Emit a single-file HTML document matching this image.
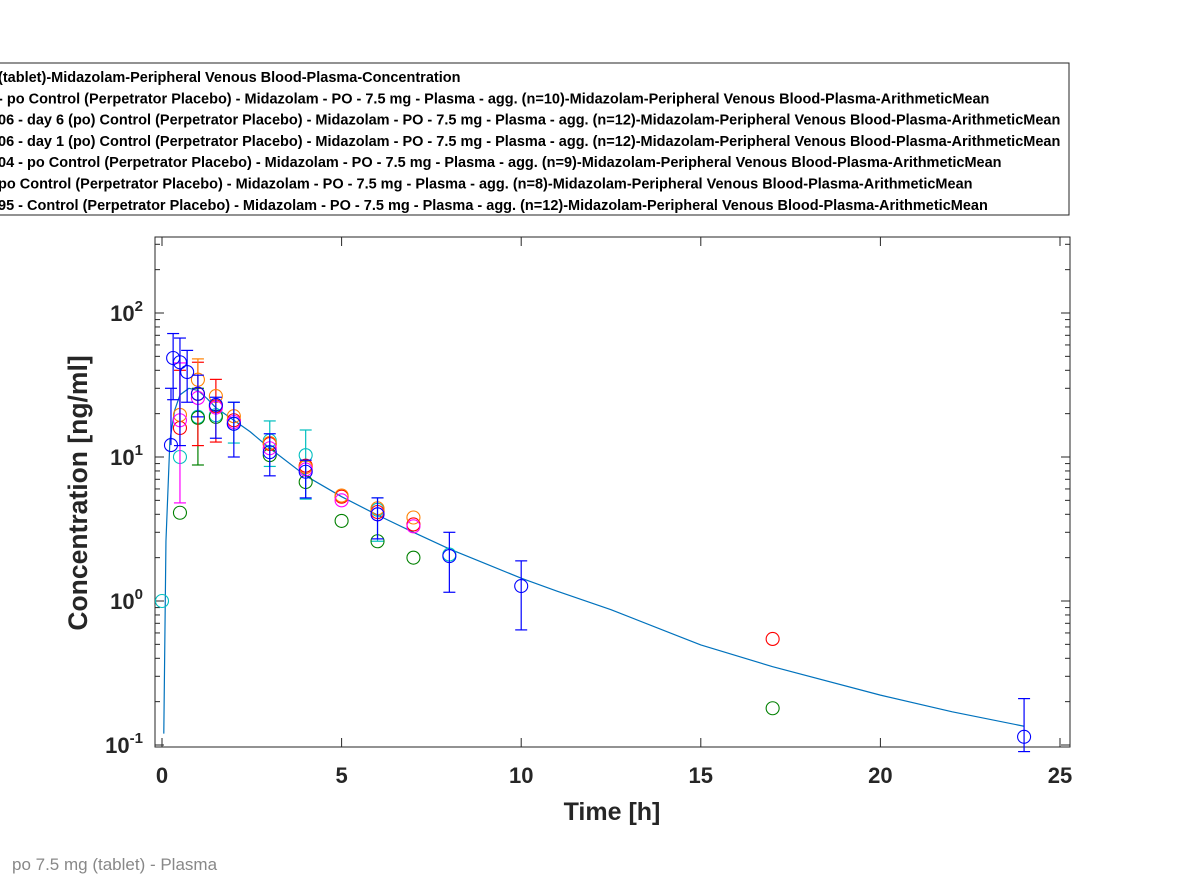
<!DOCTYPE html>
<html><head><meta charset="utf-8"><style>
body{margin:0;background:#fff;width:1181px;height:886px;overflow:hidden;font-family:"Liberation Sans",Arial,sans-serif}
</style></head><body>
<svg id="chart" width="1181" height="886" xmlns="http://www.w3.org/2000/svg" font-family="Liberation Sans, Arial, sans-serif"></svg>
<script>
const simTimes=[0.05,0.11,0.22,0.35,0.5,0.75,1.0,1.25,1.5,2,2.45,3,4,5,6,7,8,9,10,11,12.5,15,17,20,22,24];
const simValues=[0.12,2.6,13,21,27,30,29,25.5,22,18,15,11.5,7.4,5.3,3.95,3.0,2.3,1.82,1.44,1.17,0.87,0.495,0.35,0.222,0.17,0.135];
const seriesNames=['cyan','green','red','orange','magenta','blue'];
const seriesColors=['#00BFBF','#008000','#FF0000','#FF8000','#FF00FF','#0000FF'];
const cyanT=[0,0.5,1,1.5,2,3,4,6,8];
const cyanV=[1.0,10,19,19.5,17,13,10.3,4.3,2.1];
const cyanLo=[null,null,null,null,12.5,8.6,5.1,2.6,null];
const cyanHi=[null,null,null,null,24,17.8,15.4,5.2,null];
const greenT=[0.5,1,1.5,3,4,5,6,7,17];
const greenV=[4.1,18.7,19,10.3,6.7,3.6,2.6,2.0,0.18];
const greenLo=[null,8.8,null,null,null,null,null,null,null];
const greenHi=[null,30,null,null,null,null,null,null,null];
const redT=[0.5,1,1.5,2,3,4,5,6,7,17];
const redV=[15.9,27.4,22.5,18,12.3,8.7,5.3,4.15,3.4,0.545];
const redLo=[null,12,12.7,null,null,null,null,null,null,null];
const redHi=[40,45.5,34.6,null,null,null,null,null,null,null];
const orangeT=[0.5,1,1.5,2,3,4,5,6,7];
const orangeV=[19.6,34.4,26.5,19.2,12.5,8.5,5.4,4.4,3.8];
const orangeLo=[null,null,null,null,null,null,null,null,null];
const orangeHi=[null,48,null,null,null,null,null,null,null];
const magentaT=[0.5,1,1.5,2,3,4,5,6,7];
const magentaV=[18,25.7,22,17.5,11.5,8.2,5.0,4.0,3.3];
const magentaLo=[4.8,null,null,null,null,null,null,null,null];
const magentaHi=[45,null,null,null,null,null,null,null,null];
const blueT=[0.25,0.31,0.5,0.7,1,1.5,2,3,4,6,8,10,24];
const blueV=[12.1,48.7,45.5,38.9,27.5,23,17,10.8,7.9,4.0,2.05,1.27,0.114];
const blueLo=[null,25,12,24,19,13.5,10,7.4,5.2,2.7,1.15,0.63,0.09];
const blueHi=[30,72,67,55,37,26,24,14.5,9.5,5.2,3.0,1.9,0.21];
const xTicks=[0,5,10,15,20,25];
const yTickExp=[-1,0,1,2];
const legendLabels=[
'(tablet)-Midazolam-Peripheral Venous Blood-Plasma-Concentration',
'- po Control (Perpetrator Placebo) - Midazolam - PO - 7.5 mg - Plasma - agg. (n=10)-Midazolam-Peripheral Venous Blood-Plasma-ArithmeticMean',
'06 - day 6 (po) Control (Perpetrator Placebo) - Midazolam - PO - 7.5 mg - Plasma - agg. (n=12)-Midazolam-Peripheral Venous Blood-Plasma-ArithmeticMean',
'06 - day 1 (po) Control (Perpetrator Placebo) - Midazolam - PO - 7.5 mg - Plasma - agg. (n=12)-Midazolam-Peripheral Venous Blood-Plasma-ArithmeticMean',
'04 - po Control (Perpetrator Placebo) - Midazolam - PO - 7.5 mg - Plasma - agg. (n=9)-Midazolam-Peripheral Venous Blood-Plasma-ArithmeticMean',
'po Control (Perpetrator Placebo) - Midazolam - PO - 7.5 mg - Plasma - agg. (n=8)-Midazolam-Peripheral Venous Blood-Plasma-ArithmeticMean',
'95 - Control (Perpetrator Placebo) - Midazolam - PO - 7.5 mg - Plasma - agg. (n=12)-Midazolam-Peripheral Venous Blood-Plasma-ArithmeticMean'];

const NS='http://www.w3.org/2000/svg';
const svg=document.getElementById('chart');
const L=155,R=1070,T=237,B=747;
const x=t=>162+t*(1060-162)/25;
const y=v=>601-144*Math.log10(v);
function mk(tag,attrs,parent){const e=document.createElementNS(NS,tag);for(const k in attrs)e.setAttribute(k,attrs[k]);(parent||svg).appendChild(e);return e;}

const lg=mk('g',{});


mk('rect',{x:-2,y:63,width:1071,height:152,fill:'#fff',stroke:'#262626','stroke-width':1},lg);
legendLabels.forEach((s,i)=>{const t=mk('text',{x:-2,y:82+i*21.3,'font-size':14.5,'font-weight':'bold',fill:'#000'},lg);t.textContent=s;

});

const ax=mk('g',{});


mk('rect',{x:L,y:T,width:R-L,height:B-T,fill:'#fff',stroke:'#262626','stroke-width':1},ax);
xTicks.forEach(v=>{const px=x(v);
mk('line',{x1:px,x2:px,y1:B,y2:B-9,stroke:'#262626'},ax);
mk('line',{x1:px,x2:px,y1:T,y2:T+9,stroke:'#262626'},ax);
const t=mk('text',{x:px,y:783,'text-anchor':'middle','font-size':22,'font-weight':'bold',fill:'#262626'},ax);t.textContent=v;

});
for(let e=-2;e<=2;e++){for(let m=1;m<10;m++){const v=m*Math.pow(10,e);const py=y(v);if(py<T||py>B)continue;const len=m===1?9:5;
mk('line',{x1:L,x2:L+len,y1:py,y2:py,stroke:'#262626'},ax);
mk('line',{x1:R,x2:R-len,y1:py,y2:py,stroke:'#262626'},ax);}}
yTickExp.forEach(e=>{const py=y(Math.pow(10,e));
const t=mk('text',{x:143,y:py+8,'text-anchor':'end','font-size':22,'font-weight':'bold',fill:'#262626'},ax);


t.appendChild(document.createTextNode('10'));
const s=mk('tspan',{dy:-10,'font-size':15},t);s.textContent=e;});
const xl=mk('text',{x:612,y:820,'text-anchor':'middle','font-size':25,'font-weight':'bold',fill:'#262626'});xl.textContent='Time [h]';


const yl=mk('text',{x:0,y:0,transform:'translate(87,493) rotate(-90)','text-anchor':'middle','font-size':26.5,'font-weight':'bold',fill:'#262626'});yl.textContent='Concentration [ng/ml]';



const sl=mk('polyline',{points:simTimes.map((t,i)=>x(t)+','+y(simValues[i])).join(' '),fill:'none',stroke:'#0072BD','stroke-width':1.2,'stroke-linejoin':'round'});



const data=[[cyanT,cyanV,cyanLo,cyanHi],[greenT,greenV,greenLo,greenHi],[redT,redV,redLo,redHi],[orangeT,orangeV,orangeLo,orangeHi],[magentaT,magentaV,magentaLo,magentaHi],[blueT,blueV,blueLo,blueHi]];
data.forEach((d,si)=>{const c=seriesColors[si];const g=mk('g',{});


d[0].forEach((t,i)=>{const px=x(t);
if(d[2][i]!=null||d[3][i]!=null){const lo=d[2][i]!=null?d[2][i]:d[1][i];const hi=d[3][i]!=null?d[3][i]:d[1][i];
mk('line',{x1:px,x2:px,y1:y(lo),y2:y(hi),stroke:c,'stroke-width':1.2},g);
if(d[2][i]!=null)mk('line',{x1:px-6,x2:px+6,y1:y(lo),y2:y(lo),stroke:c,'stroke-width':1.2},g);
if(d[3][i]!=null)mk('line',{x1:px-6,x2:px+6,y1:y(hi),y2:y(hi),stroke:c,'stroke-width':1.2},g);}
const ci=mk('circle',{cx:px,cy:y(d[1][i]),r:6.5,fill:'none',stroke:c,'stroke-width':1.1},g);

});});

const ft=mk('text',{x:12,y:870,'font-size':17,fill:'#888'});ft.textContent='po 7.5 mg (tablet) - Plasma';


</script>
</body></html>
